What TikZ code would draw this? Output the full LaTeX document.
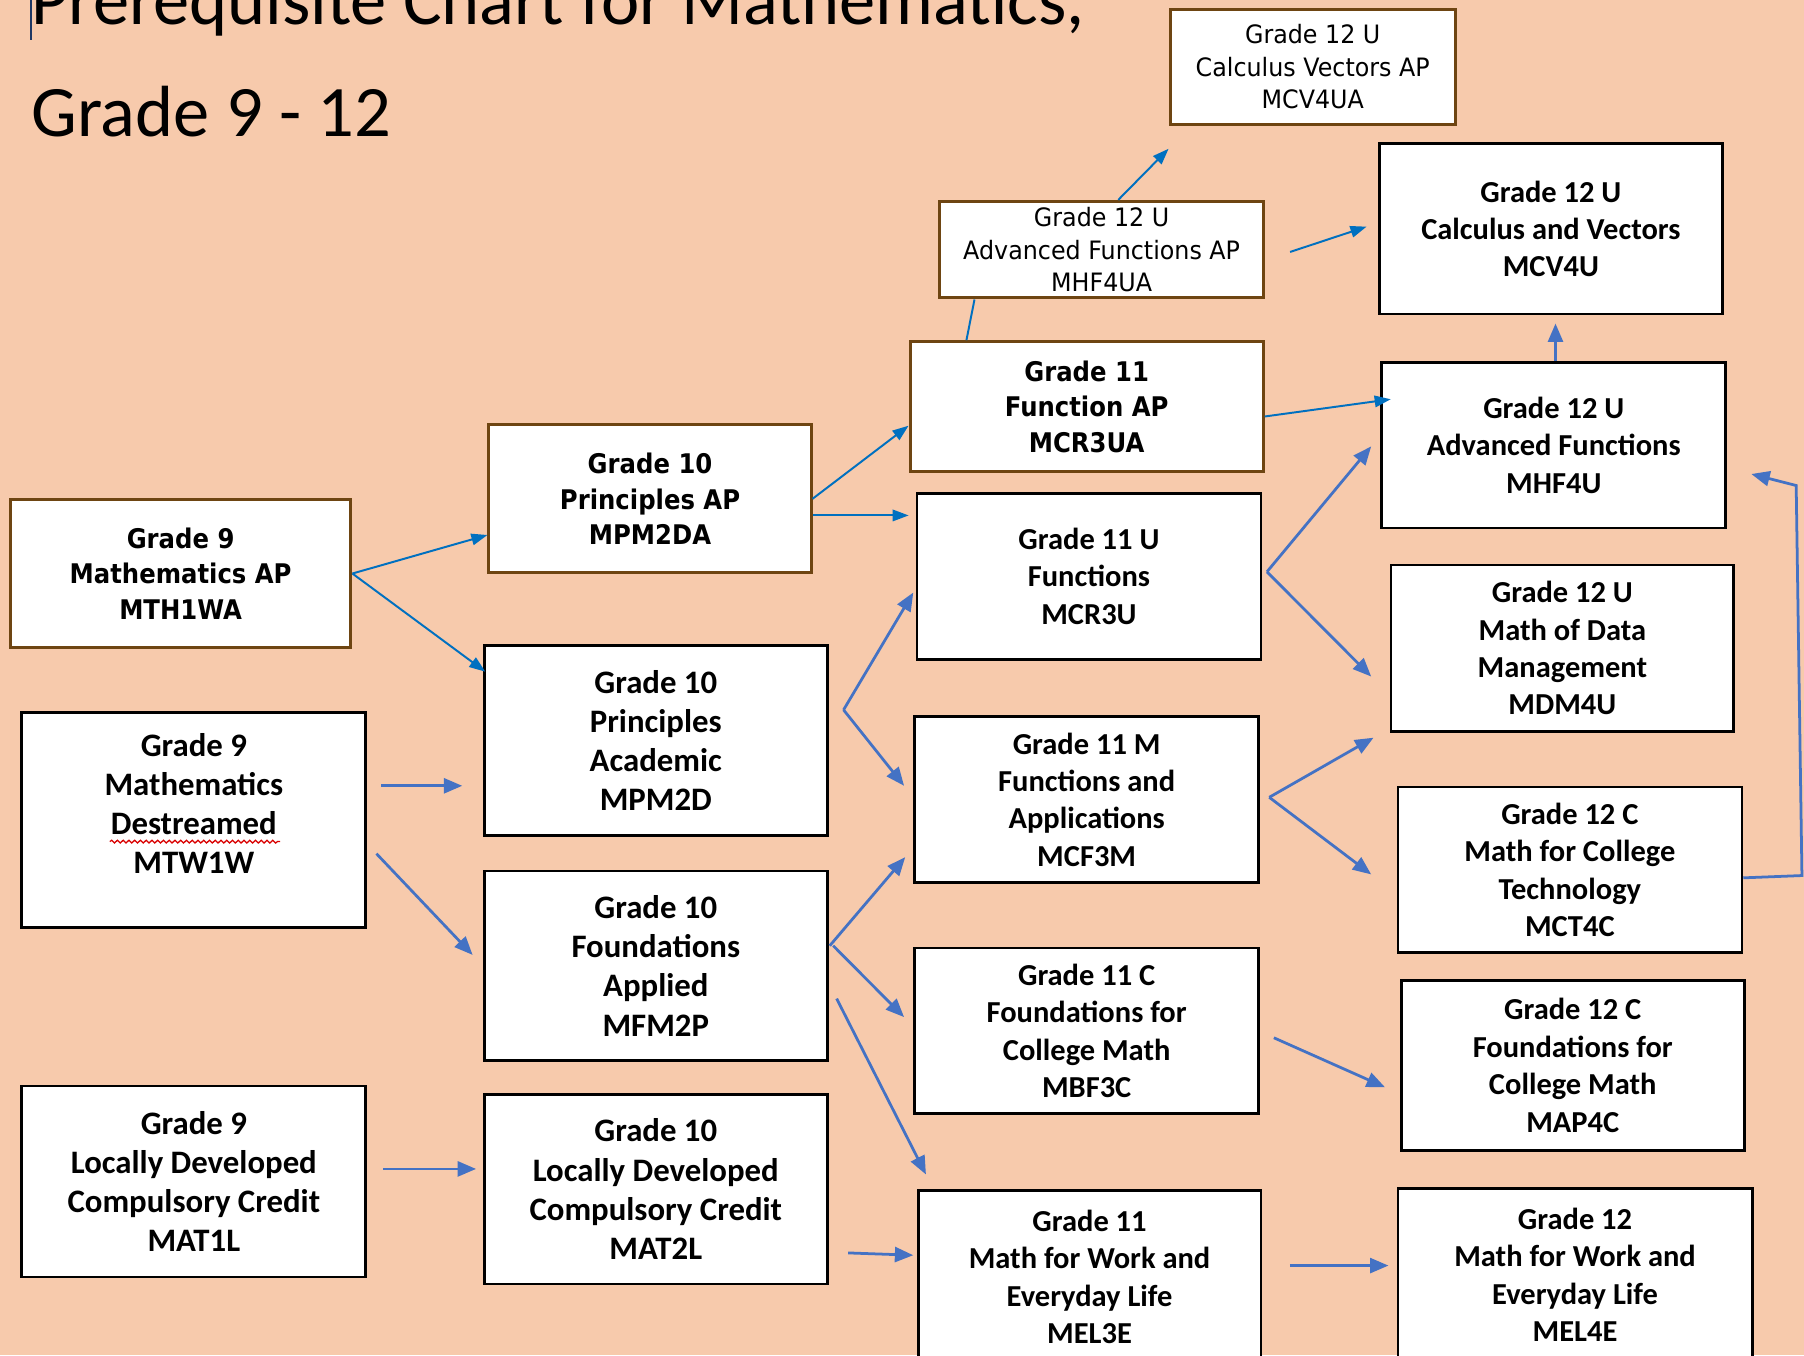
\documentclass[tikz,border=0pt]{standalone}
\usepackage{fontspec}
\usetikzlibrary{arrows.meta,decorations.pathmorphing}
\newfontfamily\tahfam[FakeStretch=0.94]{DejaVu Sans}
\newfontfamily\tahbfam[FakeStretch=0.9]{DejaVu Sans}
\newfontfamily\calfam{Carlito}
\definecolor{bgpeach}{HTML}{F7CAAC}
\definecolor{brownline}{HTML}{6E4512}
\definecolor{darkarrow}{HTML}{0070C0}
\definecolor{lightarrow}{HTML}{4472C4}
\definecolor{cursorcol}{HTML}{1F3864}
\tikzset{
  basebox/.style={draw, fill=white, inner sep=0pt, align=center, text=black},
  brownreg/.style={basebox, draw=brownline, line width=2.6pt, font=\tahfam\fontsize{22}{28}\selectfont},
  brownbold/.style={basebox, draw=brownline, line width=2.6pt, font=\tahbfam\bfseries\fontsize{23.5}{31}\selectfont},
  blackbox/.style={basebox, draw=black, line width=2.4pt, font=\calfam\bfseries\fontsize{26.5}{32.5}\selectfont},
  blackboxl/.style={basebox, draw=black, line width=2.4pt, font=\calfam\bfseries\fontsize{28.5}{34}\selectfont},
  boxtext/.style={inner sep=0pt, align=center, text=black, font=\calfam\bfseries\fontsize{28.5}{34}\selectfont},
  darr/.style={draw=darkarrow, line width=1.7pt, -{Triangle[length=14pt,width=10pt]}},
  dline/.style={draw=darkarrow, line width=1.7pt},
  larr/.style={draw=lightarrow, line width=2.4pt, -{Triangle[length=16pt,width=13pt]}},
  sz/.style 2 args={minimum width=#1pt, minimum height=#2pt}
}
\begin{document}
\begin{tikzpicture}[x=1pt,y=-1pt]
\clip (0,0) rectangle (1568,1178);
\fill[bgpeach] (0,0) rectangle (1568,1178);
% title
\node[anchor=base west, inner sep=0pt, font=\calfam\fontsize{63}{70}\selectfont] (title1) at (27,21) {Prerequisite Chart for Mathematics,};
\node[anchor=base west, inner sep=0pt, font=\calfam\fontsize{63}{70}\selectfont] (title2) at (27,119) {Grade 9 - 12};
\draw[cursorcol, line width=1pt] (27,0) -- (27,35);
% brown boxes
\node[brownreg, sz={248}{100}] (cv4ua) at (1141,58) {Grade 12 U\\Calculus Vectors AP\\MCV4UA};
\node[brownreg, sz={281}{84}] (hf4ua) at (957.5,217) {Grade 12 U\\Advanced Functions AP\\MHF4UA};
\node[brownbold, sz={307}{113}] (cr3ua) at (944.5,353.5) {Grade 11\\Function AP\\MCR3UA};
\node[brownbold, sz={280}{129}] (pm2da) at (565,433.5) {Grade 10\\Principles AP\\MPM2DA};
\node[brownbold, sz={296}{129}] (th1wa) at (157,498.5) {Grade 9\\Mathematics AP\\MTH1WA};
% black boxes grade 11/12
\node[blackbox, sz={298}{148}] (cv4u) at (1348,199) {Grade 12 U\\Calculus and Vectors\\MCV4U};
\node[blackbox, sz={299}{144}] (hf4u) at (1350.5,387) {Grade 12 U\\Advanced Functions\\MHF4U};
\node[blackbox, sz={299}{144}] (cr3u) at (946.5,501) {Grade 11 U\\Functions\\MCR3U};
\node[blackbox, sz={298}{145}] (dm4u) at (1358,563.5) {Grade 12 U\\Math of Data\\Management\\MDM4U};
\node[blackbox, sz={299}{144}] (cf3m) at (944.5,695) {Grade 11 M\\Functions and\\Applications\\MCF3M};
\node[blackbox, sz={299}{144}] (ct4c) at (1364.5,756) {Grade 12 C\\Math for College\\Technology\\MCT4C};
\node[blackbox, sz={299}{144}] (bf3c) at (944.5,896) {Grade 11 C\\Foundations for\\College Math\\MBF3C};
\node[blackbox, sz={298}{148}] (ap4c) at (1367,926) {Grade 12 C\\Foundations for\\College Math\\MAP4C};
\node[blackbox, sz={298}{150}] (el3e) at (947,1110) {Grade 11\\Math for Work and\\Everyday Life\\MEL3E};
\node[blackbox, sz={308}{150}] (el4e) at (1369,1108) {Grade 12\\Math for Work and\\Everyday Life\\MEL4E};
% black boxes grade 9/10
\node[blackboxl, sz={298}{165}] (pm2d) at (570,643.5) {Grade 10\\Principles\\Academic\\MPM2D};
\node[blackboxl, sz={299}{187}] (tw1w) at (168.5,712.5) {};
\node[boxtext] (tw1wtext) at ([yshift=14]tw1w.center) {Grade 9\\Mathematics\\Destreamed\\MTW1W};
\node[blackboxl, sz={298}{165}] (fm2p) at (570,839.5) {Grade 10\\Foundations\\Applied\\MFM2P};
\node[blackboxl, sz={299}{166}] (at1l) at (168.5,1027) {Grade 9\\Locally Developed\\Compulsory Credit\\MAT1L};
\node[blackboxl, sz={298}{165}] (at2l) at (570,1033.5) {Grade 10\\Locally Developed\\Compulsory Credit\\MAT2L};
% spell-check squiggle
\draw[red!85!black, line width=1.1pt, decorate, decoration={snake, amplitude=1.2pt, segment length=5pt}]
  ([xshift=-73,yshift=-19]tw1w.center) -- ([xshift=75,yshift=-19]tw1w.center);
% dark arrows
\draw[darr] (th1wa.east) -- ([yshift=-31.5]pm2da.west);
\draw[darr] (th1wa.east) -- ([xshift=2,yshift=-24]pm2d.north west);
\draw[darr] (pm2da.east) -- ([yshift=-16.5]cr3ua.west);
\draw[darr] ([yshift=-14.5]pm2da.east) -- ([xshift=-6,yshift=53]cr3u.west);
\draw[dline] ([xshift=-104.5]cr3ua.north) -- ([xshift=-110.5]hf4ua.south);
\draw[darr] ([xshift=14.5]hf4ua.north) -- ([yshift=-20]cv4ua.south west);
\draw[darr] ([xshift=22,yshift=-2]hf4ua.east) -- ([xshift=-10,yshift=2]cv4u.west);
\draw[darr] ([yshift=-8.5]cr3ua.east) -- ([xshift=9,yshift=40]hf4u.west);
% light arrows
\draw[larr] ([xshift=1.5]hf4u.north) -- ([xshift=4,yshift=-7]cv4u.south);
\draw[larr] ([xshift=4,yshift=4]cr3u.east) -- ([xshift=-8,yshift=-1]hf4u.west);
\draw[larr] ([xshift=4,yshift=4]cr3u.east) -- ([xshift=-16,yshift=-24.5]dm4u.west);
\draw[larr] ([xshift=8,yshift=2]cf3m.east) -- ([xshift=-14,yshift=-4]dm4u.south west);
\draw[larr] ([xshift=8,yshift=2]cf3m.east) -- ([xshift=-22,yshift=-4]ct4c.west);
\draw[larr] ([yshift=-7]ct4c.east) -- ++(51,-2) -- ++(-5,-339) -- ([xshift=21,yshift=-25]hf4u.east);
\draw[larr] ([xshift=13,yshift=26.5]pm2d.east) -- ([xshift=-2,yshift=-14]cr3u.west);
\draw[larr] ([xshift=13,yshift=26.5]pm2d.east) -- ([xshift=-8,yshift=12]cf3m.west);
\draw[larr] ([xshift=12,yshift=29.5]tw1w.east) -- ([xshift=-18,yshift=-39.5]pm2d.west);
\draw[larr] ([xshift=8,yshift=-29.5]tw1w.east) -- ([xshift=-9,yshift=9.5]fm2p.west);
\draw[larr] ([xshift=1,yshift=17.5]fm2p.east) -- ([xshift=-7,yshift=-50]cf3m.west);
\draw[larr] ([xshift=4,yshift=17.5]fm2p.east) -- ([xshift=-8,yshift=12]bf3c.west);
\draw[larr] ([xshift=7,yshift=-28.5]fm2p.east) -- ([xshift=8,yshift=13]el3e.north west);
\draw[larr] ([xshift=12,yshift=-6]bf3c.east) -- ([xshift=-13,yshift=-19]ap4c.west);
\draw[larr] ([xshift=14,yshift=11]at1l.east) -- ([xshift=-6,yshift=17.5]at2l.west);
\draw[larr] ([xshift=17,yshift=-55.5]at2l.east) -- ([xshift=-3,yshift=19]el3e.west);
\draw[larr] ([xshift=24,yshift=10]el3e.east) -- ([xshift=-7,yshift=8]el4e.west);
\end{tikzpicture}
\end{document}
